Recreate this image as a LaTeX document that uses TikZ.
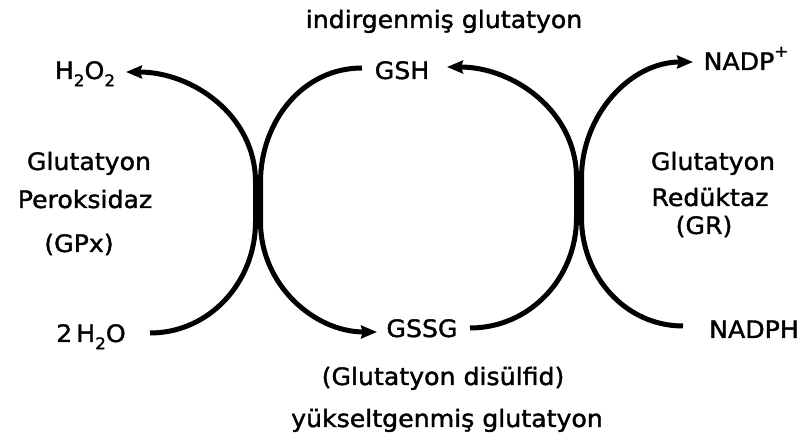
\documentclass[tikz,border=0pt]{standalone}
\usepackage{fontspec}
\setmainfont[FakeStretch=1.05,FakeBold=1.5]{DejaVu Sans}
\usetikzlibrary{arrows.meta,calc}
\newcommand\lowsub[1]{\raisebox{-0.3em}{\fontsize{16}{16}\selectfont #1}}
\newcommand\highsup[1]{\raisebox{0.55em}{\fontsize{16}{16}\selectfont #1}}
\tikzset{
  lbl/.style={inner sep=0pt, anchor=base, font=\fontsize{24}{28}\selectfont},
  conn/.style={line width=5pt, black},
  tip/.tip={Stealth[length=16pt,width=13pt,inset=2pt]}
}
\begin{document}
\begin{tikzpicture}[x=1pt,y=1pt]
\useasboundingbox (0,0) rectangle (810,446);
% labels
\node[lbl] (top)   at (444,418) {indirgenmiş glutatyon};
\node[lbl] (gsh)   at (402,367) {GSH};
\node[lbl] (h2o2)  at (85,367)  {H\lowsub{2}O\lowsub{2}};
\node[lbl] (nadp)  at (746,376) {NADP\highsup{+}};
\node[lbl] (glutL) at (89,276)  {Glutatyon};
\node[lbl] (perok) at (85,238)  {Peroksidaz};
\node[lbl] (gpx)   at (79,194)  {(GPx)};
\node[lbl] (h2o)   at (91,104)  {2\,H\lowsub{2}O};
\node[lbl] (gssg)  at (422,109) {GSSG};
\node[lbl] (gdis)  at (443,61)  {(Glutatyon disülfid)};
\node[lbl] (yuk)   at (447,19)  {yükseltgenmiş glutatyon};
\node[lbl] (nadph) at (754,108) {NADPH};
\node[lbl] (glutR) at (713,276) {Glutatyon};
\node[lbl] (reduk) at (710,240) {Redüktaz};
\node[lbl] (gr)    at (704,212) {(GR)};
% junction bars (two lines side by side)
\coordinate (La) at (255.5,264);
\coordinate (Lb) at (255.5,224);
\coordinate (Lc) at (260.5,264);
\coordinate (Ld) at (260.5,224);
\coordinate (Ra) at (576.5,268);
\coordinate (Rb) at (576.5,228);
\coordinate (Rc) at (581.5,268);
\coordinate (Rd) at (581.5,228);
% left junction
\draw[conn, tip-] ($(h2o2.base)+(41,7)$) to[out=0,in=90] (La) -- (Lb)
      to[out=-90,in=0] ($(h2o.base)+(59,9)$);
\draw[conn, -tip] ($(gsh.base)+(-40,11)$) to[out=180,in=90] (Lc) -- (Ld)
      to[out=-90,in=180] ($(gssg.base)+(-45,5)$);
% right junction
\draw[conn, -tip] ($(gssg.base)+(48,9)$) to[out=0,in=-90] (Rb) -- (Ra)
      to[out=90,in=0] ($(gsh.base)+(45,12)$);
\draw[conn, -tip] ($(nadph.base)+(-71,12)$) to[out=180,in=-90] (Rd) -- (Rc)
      to[out=90,in=180] ($(nadp.base)+(-53,8)$);
\end{tikzpicture}
\end{document}
